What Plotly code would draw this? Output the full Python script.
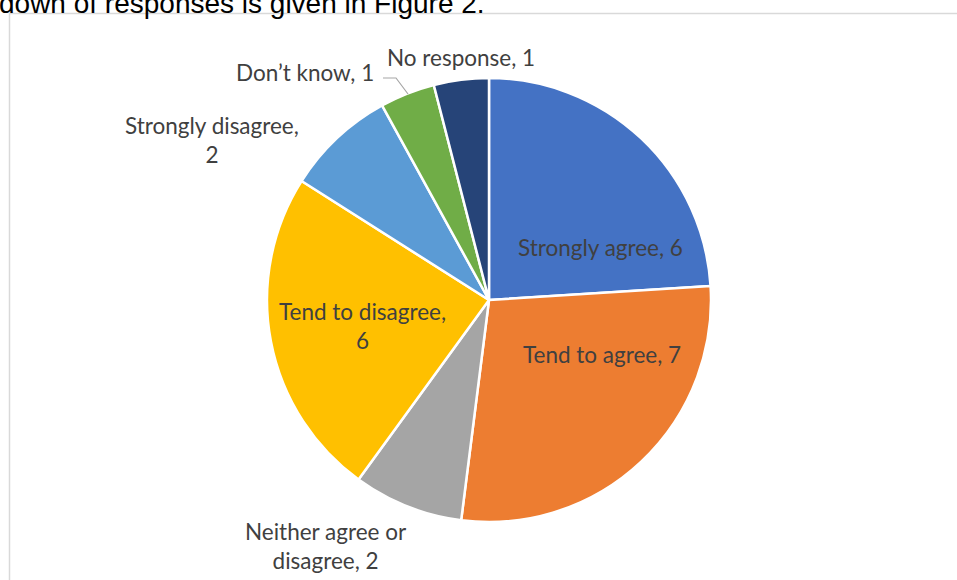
import plotly.graph_objects as go

W, H = 957, 580

categories = ["Strongly agree", "Tend to agree", "Neither agree or disagree",
              "Tend to disagree", "Strongly disagree", "Don’t know", "No response"]
values = [6, 7, 2, 6, 2, 1, 1]
colors = ["#4472C4", "#ED7D31", "#A5A5A5", "#FFC000", "#5B9BD5", "#70AD47", "#264478"]
# label text with line breaks as in the reference
label_lines = ["Strongly agree", "Tend to agree", "Neither agree or<br>disagree",
               "Tend to disagree,<br>", "Strongly disagree,<br>", "Don’t know", "No response"]
# label centre positions in pixels (x, y from top)
label_pos = [(600, 247), (602, 355), (326, 546), (362, 326), (212, 140), (305, 73), (461, 57)]


def px(x):
    return x / W


def py(y):
    return 1 - y / H


cx, cy, r = 489, 300, 222

fig = go.Figure()
fig.add_trace(go.Pie(
    labels=categories,
    values=values,
    sort=False,
    direction="clockwise",
    rotation=0,
    marker=dict(colors=colors, line=dict(color="white", width=2.5)),
    textinfo="none",
    hoverinfo="label+value",
    showlegend=False,
    domain=dict(x=[px(cx - r), px(cx + r)], y=[py(cy + r), py(cy - r)]),
))

annotations = []
for lab, val, (x, y) in zip(label_lines, values, label_pos):
    if lab.endswith("<br>"):
        text = f"{lab}{val}"
    else:
        text = f"{lab}, {val}"
    annotations.append(dict(
        x=px(x), y=py(y), xref="paper", yref="paper", text=text,
        showarrow=False, xanchor="center", yanchor="middle", align="center",
        font=dict(family="Lato", size=22.5, color="#404040"),
    ))

annotations.append(dict(
    x=px(-3), y=py(20.5), xref="paper", yref="paper",
    text="down of responses is given in Figure 2.",
    showarrow=False, xanchor="left", yanchor="bottom",
    font=dict(family="Liberation Sans", size=28, color="#000000"),
))

shapes = [
    dict(type="rect", xref="paper", yref="paper",
         x0=px(9.5), x1=px(1000), y0=py(13.5), y1=py(700),
         line=dict(color="#D9D9D9", width=1.5), fillcolor="rgba(0,0,0,0)", layer="below"),
    dict(type="path", xref="paper", yref="paper",
         path=f"M {px(383)},{py(78)} L {px(396)},{py(78)} L {px(408)},{py(94)}",
         line=dict(color="#A6A6A6", width=1.2)),
]

fig.update_layout(
    width=W, height=H,
    margin=dict(l=0, r=0, t=0, b=0),
    paper_bgcolor="white",
    plot_bgcolor="white",
    annotations=annotations,
    shapes=shapes,
)

fig.write_html("out.html",
               config={"displayModeBar": False},
               post_script="document.body.style.margin='0px';document.body.style.overflow='hidden';")
